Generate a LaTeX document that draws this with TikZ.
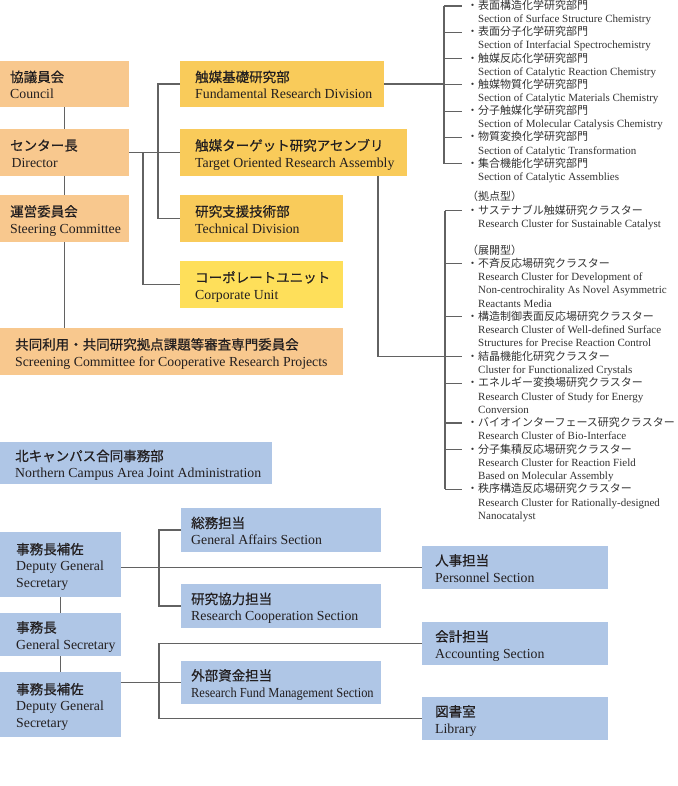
\documentclass[tikz,border=0pt]{standalone}
\usepackage{fontspec}
\usepackage{graphicx}
\setmainfont{Liberation Serif}
\newfontfamily\jp{Noto Sans CJK JP}
\newfontfamily\jpb[FakeBold=0.6]{Noto Sans CJK JP}
\definecolor{peach}{HTML}{F8C88E}
\definecolor{gold}{HTML}{F9CB5A}
\definecolor{lemon}{HTML}{FEDF5A}
\definecolor{sky}{HTML}{AFC6E6}
\definecolor{ln}{HTML}{626262}
\definecolor{tx}{HTML}{231F20}
\definecolor{lt}{HTML}{333333}
\newcommand\J[1]{{\jpb\fontsize{13.5}{16.5}\selectfont #1}}
\newcommand\TS{\rule{0pt}{12pt}}
\newcommand\BS{\rule[-4pt]{0pt}{4pt}}
\newcommand\orgbox[8]{%
  \node[#2, minimum width=#5pt, minimum height=#6pt] (#1) at (#3,#4) {};
  \node[btxt] (#1t) at ([xshift=#7pt, yshift=-2.3pt]#1.west) {#8};}
\newcommand\jitem[3]{\node[jl] (#1) at (467,#2) {#3};}
\newcommand\eitem[3]{\node[el] (#1) at (478,#2) {#3};}
\begin{document}
\begin{tikzpicture}[x=1pt,y=-1pt,
  box/.style={anchor=north west, inner sep=0pt, outer sep=0pt, draw=none},
  pbox/.style={box, fill=peach},
  gbox/.style={box, fill=gold},
  lbox/.style={box, fill=lemon},
  sbox/.style={box, fill=sky},
  btxt/.style={anchor=west, inner sep=0pt, align=left, text=tx,
    font=\fontsize{13.8}{16.5}\selectfont},
  conn/.style={draw=ln, line width=1.1pt},
  jl/.style={anchor=west, inner sep=0pt, text=lt, text height=9pt, text depth=2pt,
    font=\jp\fontsize{11}{13}\selectfont},
  el/.style={jl, font=\fontsize{11}{13}\selectfont},
]
\useasboundingbox (0,0) rectangle (677,786);

% ---------- upper (catalysis research center) ----------
\orgbox{council}{pbox}{0}{61}{129}{46}{10}{\TS\J{協議員会}\\Council\BS}
\orgbox{director}{pbox}{0}{129}{129}{47}{10}{\TS\J{センター長}\\\hspace*{1.5pt}Director\BS}
\orgbox{steering}{pbox}{0}{195}{129}{47}{10}{\TS\J{運営委員会}\\Steering Committee\BS}
\orgbox{fund}{gbox}{180}{61}{204}{46}{15}{\TS\J{触媒基礎研究部}\\Fundamental Research Division\BS}
\orgbox{target}{gbox}{180}{129}{227}{47}{15}{\TS\J{触媒ターゲット研究アセンブリ}\\Target Oriented Research Assembly\BS}
\orgbox{tech}{gbox}{180}{195}{163}{47}{15}{\TS\J{研究支援技術部}\\Technical Division\BS}
\orgbox{corp}{lbox}{180}{261}{163}{47}{15}{\TS\J{コーポレートユニット}\\Corporate Unit\BS}
\orgbox{screen}{pbox}{0}{328}{343}{47}{15}{\TS\J{共同利用・共同研究拠点課題等審査専門委員会}\\Screening Committee for Cooperative Research Projects\BS}

\coordinate (brA) at (444,0);
\coordinate (brB) at (445,0);

% sections list
\jitem{s1}{6}{・表面構造化学研究部門}
\eitem{s1e}{19.15}{Section of Surface Structure Chemistry}
\jitem{s2}{32.3}{・表面分子化学研究部門}
\eitem{s2e}{45.45}{Section of Interfacial Spectrochemistry}
\jitem{s3}{58.6}{・触媒反応化学研究部門}
\eitem{s3e}{71.75}{Section of Catalytic Reaction Chemistry}
\jitem{s4}{84.9}{・触媒物質化学研究部門}
\eitem{s4e}{98.05}{Section of Catalytic Materials Chemistry}
\jitem{s5}{111.2}{・分子触媒化学研究部門}
\eitem{s5e}{124.35}{Section of Molecular Catalysis Chemistry}
\jitem{s6}{137.5}{・物質変換化学研究部門}
\eitem{s6e}{150.65}{Section of Catalytic Transformation}
\jitem{s7}{163.8}{・集合機能化学研究部門}
\eitem{s7e}{176.95}{Section of Catalytic Assemblies}

% clusters list
\jitem{k0}{197.4}{（拠点型）}
\jitem{c1}{210.7}{・サステナブル触媒研究クラスター}
\eitem{c1e}{223.9}{Research Cluster for Sustainable Catalyst}
\jitem{k1}{250.5}{（展開型）}
\jitem{c2}{263.7}{・不斉反応場研究クラスター}
\eitem{c2e}{277.0}{Research Cluster for Development of}
\eitem{c2f}{290.3}{Non-centrochirality As Novel Asymmetric}
\eitem{c2g}{303.6}{Reactants Media}
\jitem{c3}{316.8}{・構造制御表面反応場研究クラスター}
\eitem{c3e}{330.1}{Research Cluster of Well-defined Surface}
\eitem{c3f}{343.4}{Structures for Precise Reaction Control}
\jitem{c4}{356.6}{・結晶機能化研究クラスター}
\eitem{c4e}{369.9}{Cluster for Functionalized Crystals}
\jitem{c5}{383.2}{・エネルギー変換場研究クラスター}
\eitem{c5e}{396.5}{Research Cluster of Study for Energy}
\eitem{c5f}{409.7}{Conversion}
\jitem{c6}{423.0}{・バイオインターフェース研究クラスター}
\eitem{c6e}{436.3}{Research Cluster of Bio-Interface}
\jitem{c7}{449.5}{・分子集積反応場研究クラスター}
\eitem{c7e}{462.8}{Research Cluster for Reaction Field}
\eitem{c7f}{476.1}{Based on Molecular Assembly}
\jitem{c8}{489.3}{・秩序構造反応場研究クラスター}
\eitem{c8e}{502.6}{Research Cluster for Rationally-designed}
\eitem{c8f}{515.9}{Nanocatalyst}

% connectors upper
\draw[conn] (council.south) -- (director.north);
\draw[conn] (director.south) -- (steering.north);
\draw[conn] (steering.south) -- (steering.south |- screen.north);
\draw[conn] (director.east) -- (target.west);
\draw[conn] (fund.west) -- ++(-22,0) |- (tech.west);
\draw[conn] ([xshift=14pt]director.east) |- (corp.west);
\draw[conn] (fund.east) -- (fund.east -| brA);
\draw[conn] (brA |- s1.west) -- (brA |- s7.west);
\foreach \n in {s1,s2,s3,s4,s5,s6,s7}
  \draw[conn] (brA |- \n.west) -- ([xshift=-5pt]\n.west);
\draw[conn] ([xshift=-29pt]target.south east) |- (brB |- c4.west);
\draw[conn] (brB |- c1.west) -- (brB |- c8.west);
\foreach \n in {c1,c2,c3,c4,c5,c6,c7,c8}
  \draw[conn] (brB |- \n.west) -- ([xshift=-5pt]\n.west);

% ---------- lower (administration) ----------
\orgbox{north}{sbox}{0}{442}{272}{42}{15}{\TS\J{北キャンパス合同事務部}\\Northern Campus Area Joint Administration\BS}
\orgbox{dep1}{sbox}{0}{532}{121}{65}{16}{\TS\J{事務長補佐}\\Deputy General\\Secretary\BS}
\orgbox{gsec}{sbox}{0}{613}{121}{43}{16}{\TS\J{事務長}\\General Secretary\BS}
\orgbox{dep2}{sbox}{0}{672}{121}{65}{16}{\TS\J{事務長補佐}\\Deputy General\\Secretary\BS}
\orgbox{gaff}{sbox}{181}{508}{200}{44}{10}{\TS\J{総務担当}\\General Affairs Section\BS}
\orgbox{rcoop}{sbox}{181}{584}{200}{44}{10}{\TS\J{研究協力担当}\\Research Cooperation Section\BS}
\orgbox{rfund}{sbox}{181}{661}{200}{43}{10}{\TS\J{外部資金担当}\\\scalebox{0.9}[1]{Research Fund Management Section}\BS}
\orgbox{pers}{sbox}{422}{546}{186}{43}{13}{\TS\J{人事担当}\\Personnel Section\BS}
\orgbox{acct}{sbox}{422}{622}{186}{43}{13}{\TS\J{会計担当}\\Accounting Section\BS}
\orgbox{lib}{sbox}{422}{697}{186}{43}{13}{\TS\J{図書室}\\Library\BS}

\coordinate (vx) at (159,0);
\draw[conn] (dep1.south) -- (gsec.north);
\draw[conn] (gsec.south) -- (dep2.north);
\draw[conn] (dep1.east |- pers.west) -- (pers.west);
\draw[conn] (gaff.west) -- (gaff.west -| vx) -- (rcoop.west -| vx) -- (rcoop.west);
\draw[conn] (dep2.east |- rfund.west) -- (rfund.west);
\draw[conn] (acct.west) -- (acct.west -| vx) -- (lib.west -| vx) -- (lib.west);
\end{tikzpicture}
\end{document}
